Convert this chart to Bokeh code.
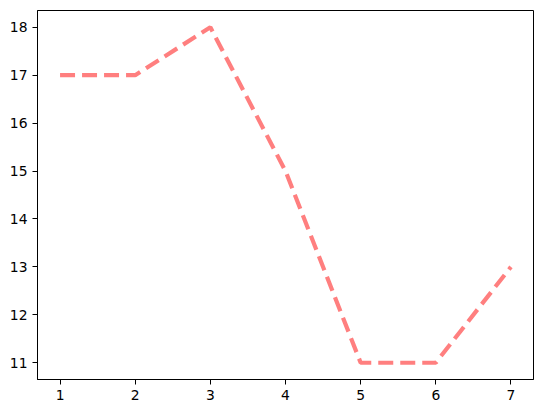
from bokeh.plotting import figure
from bokeh.embed import file_html
from bokeh.resources import INLINE
from bokeh.models import Range1d, FixedTicker

x_vals = [1, 2, 3, 4, 5, 6, 7]
y_vals = [17, 17, 18, 15, 11, 11, 13]
x_ticks = [1, 2, 3, 4, 5, 6, 7]
y_ticks = [11, 12, 13, 14, 15, 16, 17, 18]

p = figure(width=535, height=405, output_backend="svg", toolbar_location=None,
           x_range=Range1d(0.7, 7.3), y_range=Range1d(10.65, 18.35),
           min_border_left=37, min_border_right=2, min_border_top=10, min_border_bottom=26)
p.line(x_vals, y_vals, line_color="red", line_alpha=0.5, line_width=4.2, line_dash="15 7")

p.xgrid.visible = False
p.ygrid.visible = False
p.outline_line_color = "black"
p.outline_line_width = 1
p.outline_line_alpha = 1
for ax in (p.xaxis[0], p.yaxis[0]):
    ax.major_label_text_font = "DejaVu Sans"
    ax.major_label_text_font_size = "13.9px"
    ax.major_label_text_color = "black"
    ax.axis_line_color = "black"
    ax.major_tick_line_color = "black"
    ax.major_tick_out = 5
    ax.major_tick_in = 0
    ax.minor_tick_line_color = None
p.xaxis[0].ticker = FixedTicker(ticks=x_ticks)
p.yaxis[0].ticker = FixedTicker(ticks=y_ticks)
p.xaxis[0].major_label_standoff = 5
p.yaxis[0].major_label_standoff = 5
p.background_fill_color = "white"
p.border_fill_color = "white"

open("out.html", "w").write(file_html(p, INLINE))
